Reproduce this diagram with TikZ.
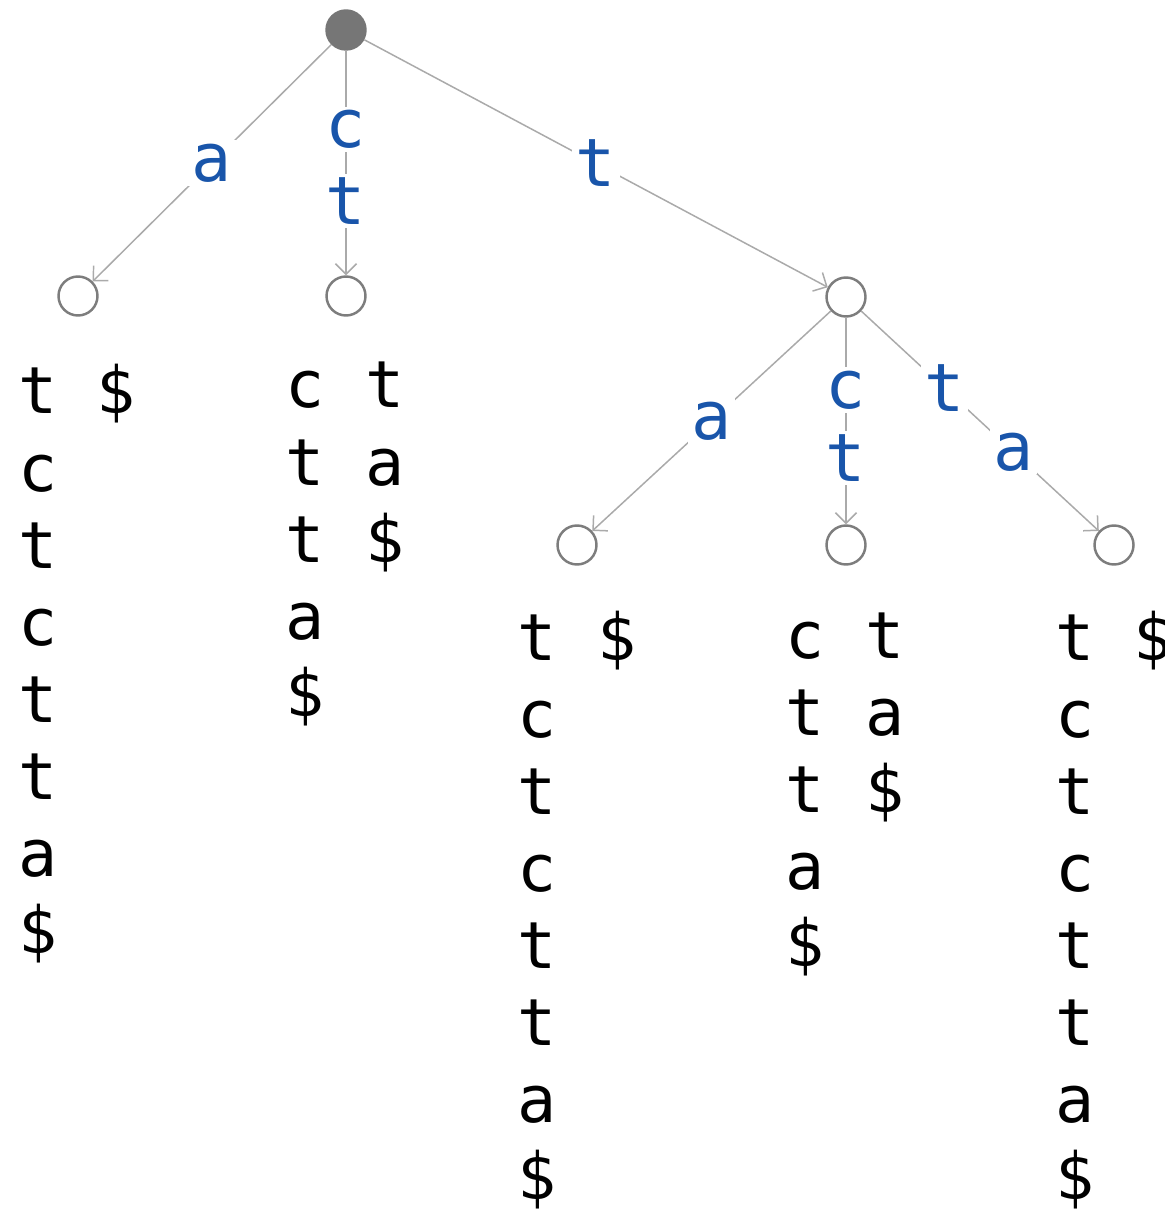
\documentclass[tikz,border=0pt]{standalone}
\usepackage{fontspec}
\usetikzlibrary{arrows.meta, positioning}
\newfontfamily\triefont{DejaVu Sans Mono}
\definecolor{edgegray}{RGB}{170,170,170}
\definecolor{nodegray}{RGB}{125,125,125}
\definecolor{rootgray}{RGB}{118,118,118}
\definecolor{labelblue}{RGB}{25,85,170}

\tikzset{
  vertex/.style={circle, draw=nodegray, line width=1.4pt, minimum size=0.78cm, inner sep=0pt, fill=white},
  rootvertex/.style={vertex, fill=rootgray, draw=rootgray},
  trieedge/.style={draw=edgegray, line width=0.85pt, -{Straight Barb[length=6pt,width=12pt]}},
  edgelabel/.style={text=labelblue, fill=white, inner sep=2pt, font=\triefont\fontsize{38}{44}\selectfont},
  sfx/.style={anchor=base, inner sep=0pt, font=\triefont\fontsize{37}{44}\selectfont},
}

% one suffix written top to bottom
\newcommand{\suffixcol}[4]{%
  \foreach \ch [count=\k] in {#4}
    \node[sfx] (#1-\k) at (#2, #3+77*\k-77) {\ch};
}

\begin{document}
\begin{tikzpicture}[x=0.02cm, y=-0.02cm]
    \useasboundingbox (0,0) rectangle (1164,1212);

    % Trie vertices
    \node[rootvertex] (root) at (346,30) {};
    \node[vertex] (na) at (78,296) {};
    \node[vertex] (nc) at (346,296) {};
    \node[vertex] (nt) at (846,297) {};
    \node[vertex] (nta) at (577,545) {};
    \node[vertex] (ntc) at (846,545) {};
    \node[vertex] (ntt) at (1114,545) {};

    % Edges out of the root
    \draw[trieedge] (root) -- (na) node[edgelabel, midway] (la) {a};
    \draw[trieedge] (root) -- (nc) node[edgelabel, pos=0.35] (lc1) {c}
                                   node[edgelabel, pos=0.67] (lc2) {t};
    \draw[trieedge] (root) -- (nt) node[edgelabel, midway] (lt) {t};

    % Edges out of t
    \draw[trieedge] (nt) -- (nta) node[edgelabel, midway] (lta) {a};
    \draw[trieedge] (nt) -- (ntc) node[edgelabel, pos=0.35] (ltc1) {c}
                                  node[edgelabel, pos=0.68] (ltc2) {t};
    \draw[trieedge] (nt) -- (ntt) node[edgelabel, pos=0.35] (ltt1) {t}
                                  node[edgelabel, pos=0.64] (ltt2) {a};

    % Suffixes hanging below the leaves
    \suffixcol{sa1}{38}{414}{t,c,t,c,t,t,a,\$}
    \suffixcol{sa2}{116}{414}{\$}
    \suffixcol{sc1}{305}{408}{c,t,t,a,\$}
    \suffixcol{sc2}{385}{408}{t,a,\$}
    \suffixcol{sta1}{537}{660}{t,c,t,c,t,t,a,\$}
    \suffixcol{sta2}{617}{660}{\$}
    \suffixcol{stc1}{805}{658}{c,t,t,a,\$}
    \suffixcol{stc2}{885}{658}{t,a,\$}
    \suffixcol{stt1}{1075}{660}{t,c,t,c,t,t,a,\$}
    \suffixcol{stt2}{1153}{660}{\$}
\end{tikzpicture}
\end{document}
